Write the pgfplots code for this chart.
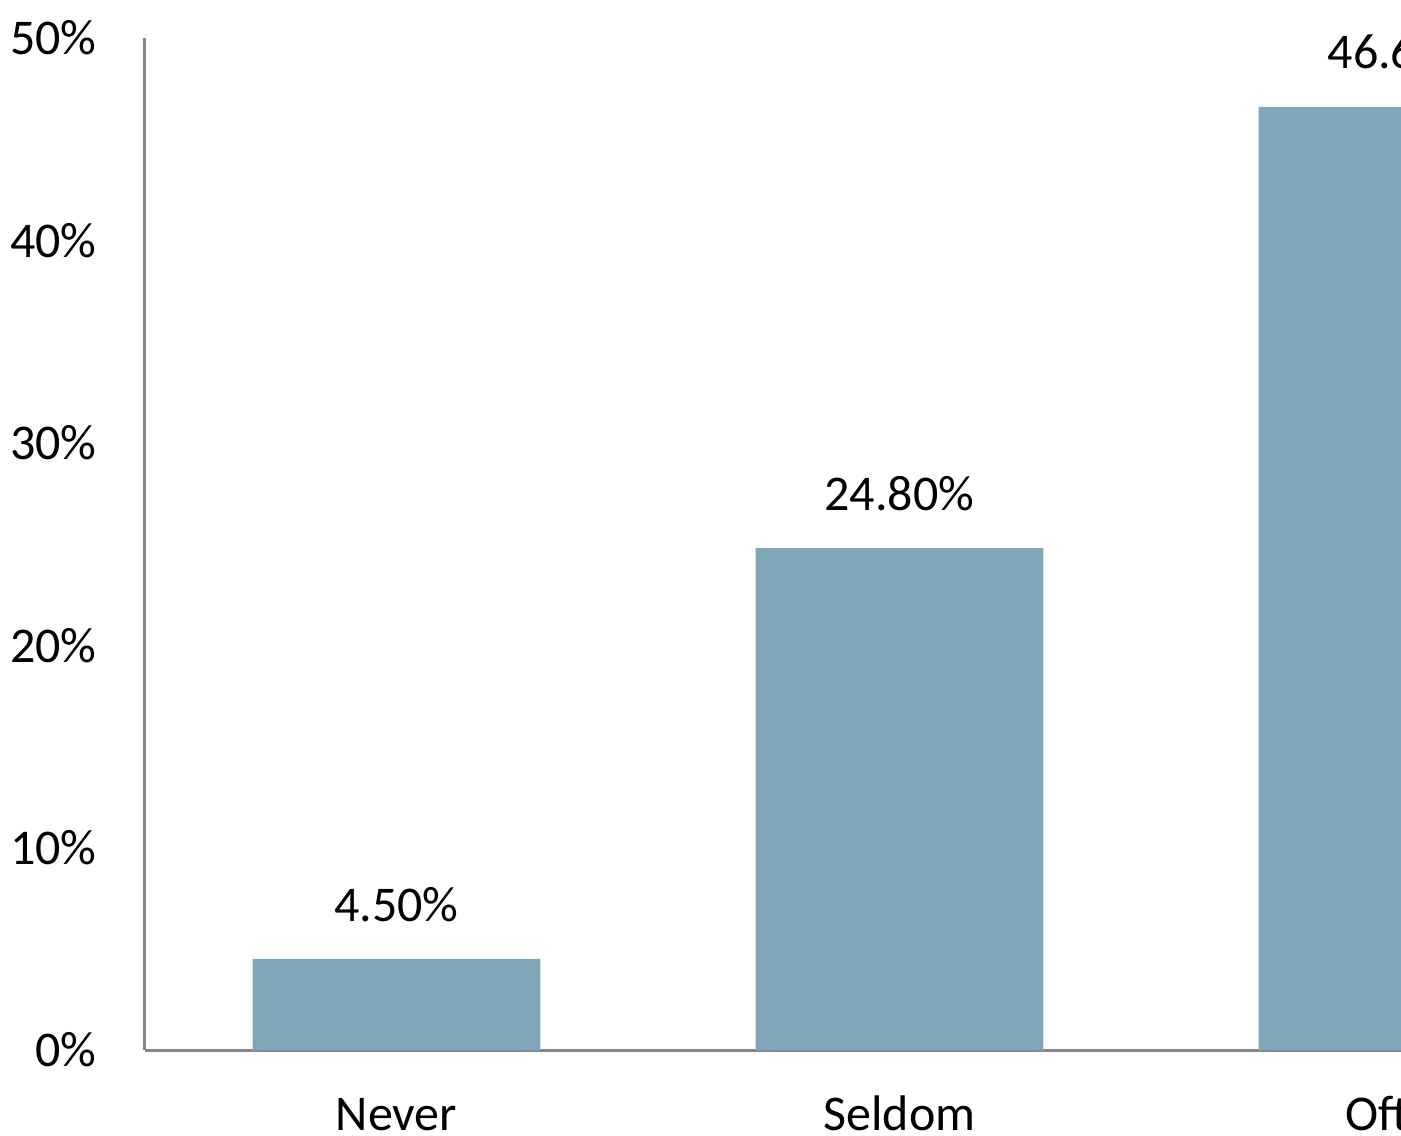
\documentclass[border=0pt]{standalone}
\usepackage{fontspec}
\setmainfont{Carlito}
\usepackage{pgfplots}
\pgfplotsset{compat=1.18}
\definecolor{barc}{RGB}{127,167,183}
\definecolor{axc}{RGB}{134,134,134}
\begin{document}
\begin{tikzpicture}
\useasboundingbox (-72.5pt,-42.5pt) rectangle (628pt,525pt);
\clip (-72.5pt,-42.5pt) rectangle (628pt,525pt);
\begin{axis}[
  at={(0pt,0pt)}, anchor=south west,
  scale only axis,
  width=754.5pt, height=506pt,
  xmin=-0.5, xmax=2.5, ymin=0, ymax=50,
  axis x line=bottom, axis y line=left,
  axis line style={-, draw=axc, line width=1.5pt},
  major tick length=0pt,
  tick style={draw=none},
  xtick={0,1,2},
  xticklabels={Never,Seldom,Often},
  ytick={0,10,20,30,40,50},
  yticklabel={\pgfmathprintnumber{\tick}\%},
  /pgf/number format/assume math mode=true,
  ticklabel style={font=\fontsize{25}{30}\selectfont, text=black, inner sep=0pt},
  yticklabel style={anchor=east, xshift=-24pt},
  xticklabel style={anchor=base, yshift=-40pt},
  ybar, bar width=0.572,
  nodes near coords={\pgfmathprintnumber[fixed,fixed zerofill,precision=2]{\pgfplotspointmeta}\%},
  every node near coord/.append style={font=\fontsize{25}{30}\selectfont, text=black, inner sep=0pt, anchor=south, yshift=18.5pt},
]
\addplot[fill=barc, draw=none] coordinates {(0,4.5) (1,24.8) (2,46.6)};
\end{axis}
\end{tikzpicture}
\end{document}
